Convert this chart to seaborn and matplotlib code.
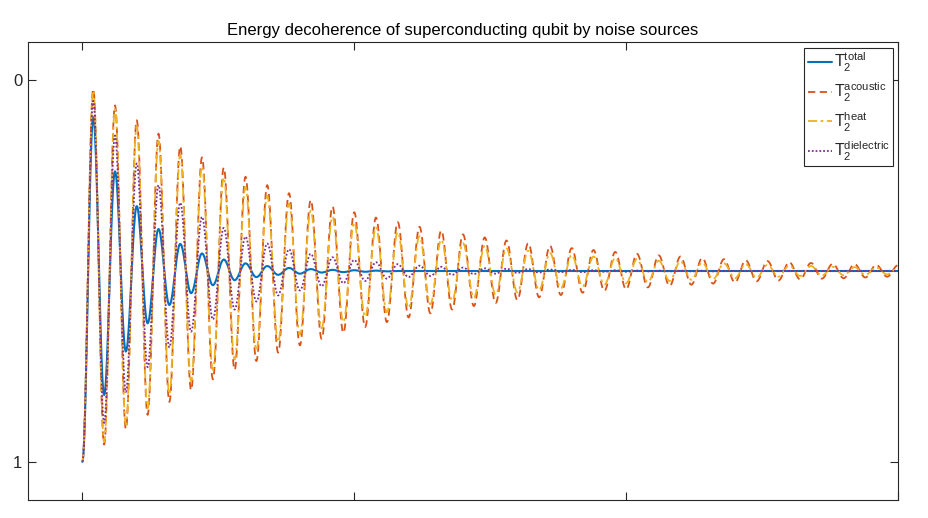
import numpy as np
import pandas as pd
import matplotlib
matplotlib.use('Agg')
import matplotlib.pyplot as plt
import seaborn as sns


# Extremum values of each curve, one per half period
total = [
    1.000, 0.097, 0.825, 0.239, 0.711, 0.330, 0.637, 0.390, 0.589, 0.429,
    0.558, 0.454, 0.537, 0.470, 0.524, 0.480, 0.516, 0.487, 0.510, 0.492,
    0.507, 0.495, 0.504, 0.497, 0.503, 0.498, 0.502, 0.499, 0.501, 0.500,
    0.500, 0.500, 0.500, 0.500, 0.500, 0.500, 0.500, 0.500, 0.500, 0.500,
    0.500, 0.500, 0.500, 0.500, 0.500, 0.500, 0.500, 0.500, 0.500, 0.500,
    0.500, 0.500, 0.500, 0.500, 0.500, 0.500, 0.500, 0.500, 0.500, 0.500,
    0.500, 0.500, 0.500, 0.500, 0.500, 0.500, 0.500, 0.500, 0.500, 0.500,
    0.500, 0.500, 0.500, 0.500, 0.500, 0.500,
]
acoustic = [
    1.000, 0.023, 0.955, 0.066, 0.914, 0.105, 0.877, 0.140, 0.843, 0.173,
    0.812, 0.202, 0.784, 0.229, 0.759, 0.253, 0.736, 0.275, 0.714, 0.296,
    0.695, 0.314, 0.678, 0.331, 0.662, 0.346, 0.647, 0.360, 0.634, 0.372,
    0.622, 0.384, 0.611, 0.394, 0.601, 0.404, 0.592, 0.412, 0.584, 0.420,
    0.576, 0.427, 0.569, 0.434, 0.563, 0.440, 0.557, 0.445, 0.552, 0.450,
    0.548, 0.455, 0.543, 0.459, 0.539, 0.462, 0.536, 0.466, 0.533, 0.469,
    0.530, 0.472, 0.527, 0.474, 0.525, 0.477, 0.522, 0.479, 0.520, 0.481,
    0.519, 0.482, 0.517, 0.484, 0.515, 0.485,
]
heat = [
    1.000, 0.027, 0.948, 0.076, 0.902, 0.120, 0.860, 0.159, 0.823, 0.195,
    0.789, 0.226, 0.759, 0.255, 0.732, 0.280, 0.708, 0.303, 0.686, 0.323,
    0.667, 0.342, 0.650, 0.358, 0.634, 0.373, 0.620, 0.386, 0.608, 0.398,
    0.597, 0.409, 0.587, 0.418, 0.578, 0.427, 0.570, 0.434, 0.562, 0.441,
    0.556, 0.447, 0.550, 0.453, 0.545, 0.458, 0.540, 0.462, 0.536, 0.466,
    0.532, 0.469, 0.529, 0.473, 0.526, 0.475, 0.523, 0.478, 0.521, 0.480,
    0.519, 0.482, 0.517, 0.484, 0.515, 0.486, 0.513, 0.487, 0.512, 0.489,
    0.511, 0.490, 0.510, 0.491, 0.509, 0.492,
]
dielectric = [
    1.000, 0.054, 0.898, 0.145, 0.817, 0.218, 0.752, 0.275, 0.700, 0.321,
    0.659, 0.358, 0.627, 0.387, 0.601, 0.410, 0.580, 0.428, 0.564, 0.443,
    0.551, 0.455, 0.540, 0.464, 0.532, 0.471, 0.526, 0.477, 0.520, 0.482,
    0.516, 0.486, 0.513, 0.489, 0.510, 0.491, 0.508, 0.493, 0.507, 0.494,
    0.505, 0.495, 0.504, 0.496, 0.503, 0.497, 0.503, 0.498, 0.502, 0.498,
    0.502, 0.499, 0.501, 0.499, 0.501, 0.499, 0.501, 0.499, 0.501, 0.500,
    0.500, 0.500, 0.500, 0.500, 0.500, 0.500, 0.500, 0.500, 0.500, 0.500,
    0.500, 0.500, 0.500, 0.500, 0.500, 0.500,
]

# extrema run evenly from t=0 to t=3
t_start = 0.0
t_end = 3.0

labels = [r'T$_2^{total}$', r'T$_2^{acoustic}$', r'T$_2^{heat}$', r'T$_2^{dielectric}$']
title = 'Energy decoherence of superconducting qubit by noise sources'
x_ticks = [0, 1, 2, 3]
y_ticks = [0, 1]
y_tick_labels = ['0', '1']


def smooth_curve(values, n=24):
    # join neighbouring extrema with half cosine arcs, like the original line
    t = np.linspace(t_start, t_end, len(values))
    xs, ys = [], []
    s = np.linspace(0, 1, n, endpoint=False)
    for i in range(len(values) - 1):
        a, b = values[i], values[i + 1]
        xs.append(t[i] + (t[i + 1] - t[i]) * s)
        ys.append((a + b) / 2 + (a - b) / 2 * np.cos(np.pi * s))
    xs.append([t[-1]])
    ys.append([values[-1]])
    return pd.DataFrame({'t': np.concatenate(xs), 'P': np.concatenate(ys)})


def main():
    sns.set_style('ticks')
    plt.rcParams['font.family'] = ['Liberation Sans', 'DejaVu Sans']
    plt.rcParams['mathtext.default'] = 'regular'

    fig = plt.figure(figsize=(9.29, 5.18), dpi=100)
    ax = fig.add_axes([28 / 929, 18 / 518, 870 / 929, 458 / 518])

    series = [total, acoustic, heat, dielectric]
    colors = ['#0072BD', '#D95319', '#EDB120', '#7E2F8E']
    styles = ['-', (0, (4, 2.5)), (0, (5, 2, 1.5, 2)), (0, (1, 1.1))]
    widths = [1.5, 1.3, 1.3, 1.3]

    for values, color, ls, lw, label in zip(series, colors, styles, widths, labels):
        df = smooth_curve(values)
        sns.lineplot(data=df, x='t', y='P', color=color, linestyle=ls, linewidth=lw,
                     label=label, ax=ax, estimator=None, sort=False)

    ax.set_xlim(-0.2, 3.0)
    ax.set_ylim(1.1, -0.1)
    ax.set_xticks(x_ticks)
    ax.set_xticklabels([])
    ax.set_yticks(y_ticks)
    ax.set_yticklabels(y_tick_labels, fontsize=12)
    ax.set_xlabel('')
    ax.set_ylabel('')
    ax.tick_params(direction='in', length=6, width=0.8, top=True, right=True,
                   color='#262626', labelcolor='#262626', pad=4)
    for sp in ax.spines.values():
        sp.set_color('#262626')
        sp.set_linewidth(0.8)

    ax.set_title(title, fontsize=12, pad=5, color='black')

    leg = ax.legend(loc='upper right', bbox_to_anchor=(0.9943, 0.9869), borderaxespad=0,
                    fontsize=11.5, handlelength=1.5, handletextpad=0.15, borderpad=0.2,
                    labelspacing=0.4, fancybox=False, framealpha=1, edgecolor='#262626')
    leg.get_frame().set_linewidth(0.8)

    fig.savefig('out.png', dpi=100, facecolor='white')


if __name__ == '__main__':
    main()
